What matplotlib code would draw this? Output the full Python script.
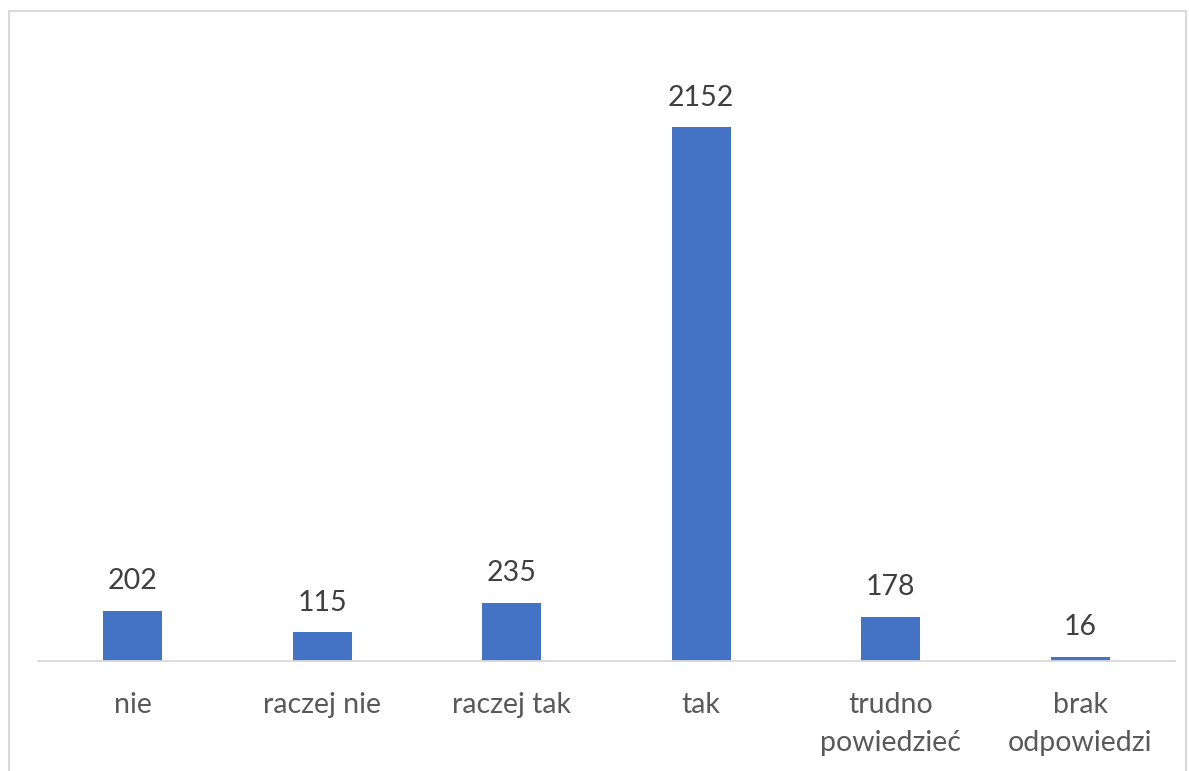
import matplotlib
matplotlib.use("Agg")
import matplotlib.pyplot as plt
from matplotlib.patches import Rectangle

categories = ["nie", "raczej nie", "raczej tak", "tak", "trudno\npowiedzieć", "brak\nodpowiedzi"]
values = [202, 115, 235, 2152, 178, 16]

plt.rcParams['font.family'] = ['Lato', 'DejaVu Sans']

fig = plt.figure(figsize=(11.89, 7.71), dpi=100)
fig.patches.append(Rectangle((9/1189, -0.05), (1186-9)/1189, 1.05 - 11/771,
                             transform=fig.transFigure, fill=False,
                             edgecolor='#d9d9d9', linewidth=1.5))
ax = fig.add_axes([38/1189, 110/771, (1175-38)/1189, (661-41)/771])
x = list(range(len(categories)))
bars = ax.bar(x, values, width=0.31, color='#4472C4', zorder=2)
ax.set_xlim(-0.5, len(categories) - 0.5)
ax.set_ylim(0, 2500)
for xi, v in zip(x, values):
    ax.annotate(str(v), (xi, v), xytext=(0, 12), textcoords='offset points',
                ha='center', va='bottom', fontsize=20.5, color='#404040')
ax.set_xticks(x)
ax.set_xticklabels(categories, fontsize=20.5, color='#595959', linespacing=1.6)
ax.tick_params(axis='x', length=0, pad=22)
ax.set_yticks([])
for s in ['top', 'right', 'left']:
    ax.spines[s].set_visible(False)
ax.spines['bottom'].set_color('#d9d9d9')
ax.spines['bottom'].set_linewidth(1.3)
fig.savefig("out.png", dpi=100)
